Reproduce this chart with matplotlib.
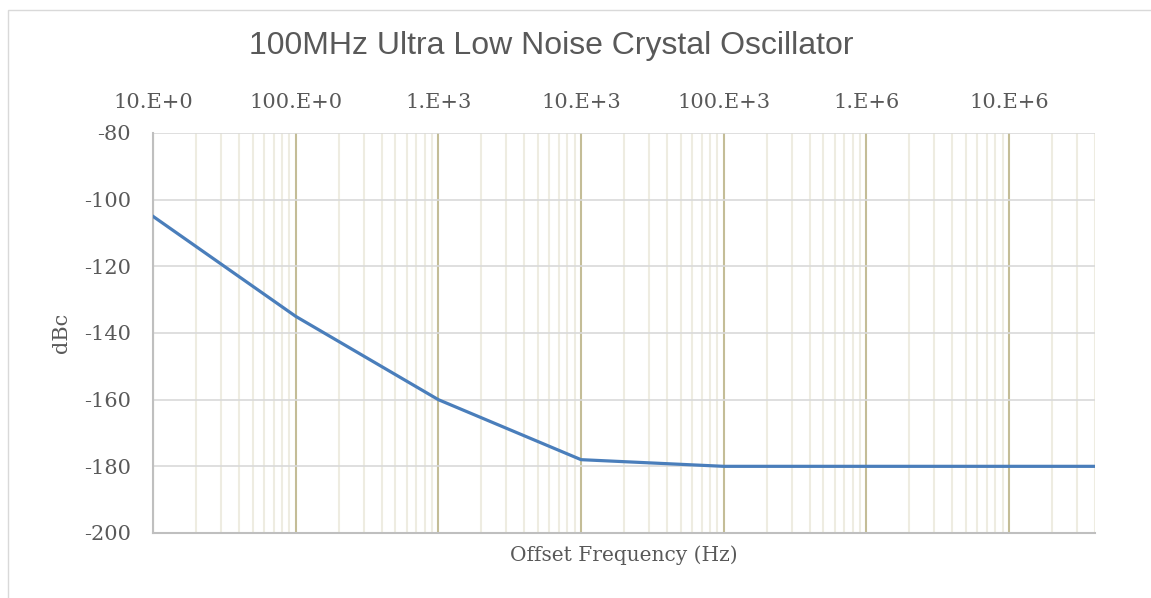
import numpy as np
import matplotlib
matplotlib.use("Agg")
import matplotlib.pyplot as plt
from matplotlib.patches import Rectangle

# data
freq_hz = [10, 100, 1e3, 1e4, 1e5, 1e6, 1e7, 4e7]
noise_dbc = [-105, -135, -160, -178, -180, -180, -180, -180]

x_ticks = [10, 100, 1e3, 1e4, 1e5, 1e6, 1e7]
x_tick_labels = ["10.E+0", "100.E+0", "1.E+3", "10.E+3", "100.E+3", "1.E+6", "10.E+6"]
y_ticks = [-80, -100, -120, -140, -160, -180, -200]
y_tick_labels = ["-80", "-100", "-120", "-140", "-160", "-180", "-200"]

text_col = "#595959"
serif = "DejaVu Serif"

fig = plt.figure(figsize=(11.51, 5.98), dpi=100)
ax = fig.add_axes([153 / 1151, 65 / 598, 942 / 1151, 400 / 598])

# outer chart border
fig.patches.append(Rectangle((8 / 1151, -0.1), 1.2, (598 - 10) / 598 + 0.1,
                             transform=fig.transFigure, fill=False,
                             edgecolor="#d9d9d9", linewidth=1))

ax.plot(freq_hz, noise_dbc, color="#4a7ebb", linewidth=2.3, zorder=3)

ax.set_xscale("log")
ax.set_xlim(10, 4e7)
ax.set_ylim(-200, -80)

ax.xaxis.tick_top()
ax.set_xticks(x_ticks)
ax.set_xticklabels(x_tick_labels)
ax.xaxis.set_minor_locator(matplotlib.ticker.LogLocator(base=10, subs=np.arange(2, 10)))
ax.xaxis.set_minor_formatter(matplotlib.ticker.NullFormatter())
ax.set_yticks(y_ticks)
ax.set_yticklabels(y_tick_labels)

ax.tick_params(axis="both", which="both", length=0, colors=text_col, labelsize=15)
ax.tick_params(axis="x", pad=15)
ax.tick_params(axis="y", pad=16)
for lab in ax.get_xticklabels() + ax.get_yticklabels():
    lab.set_fontfamily(serif)

ax.grid(axis="x", which="major", color="#c4bd97", linewidth=1.5)
ax.grid(axis="x", which="minor", color="#eeece1", linewidth=1.5)
ax.grid(axis="y", which="major", color="#d9d9d9", linewidth=1.2)
ax.set_axisbelow(True)

for side in ["right", "top"]:
    ax.spines[side].set_visible(False)
for side in ["left", "bottom"]:
    ax.spines[side].set_color("#bfbfbf")
    ax.spines[side].set_linewidth(1.5)

ax.set_xlabel("Offset Frequency (Hz)", fontfamily=serif, fontsize=14.5, color=text_col, labelpad=9)
ax.xaxis.set_label_position("bottom")
ax.set_ylabel("dBc", fontfamily=serif, fontsize=15, color=text_col, labelpad=9)

fig.text(551 / 1151, 1 - 46 / 598, "100MHz Ultra Low Noise Crystal Oscillator",
         fontfamily="Liberation Sans", fontsize=23, color=text_col, ha="center", va="center")

fig.savefig("out.png", dpi=100)
